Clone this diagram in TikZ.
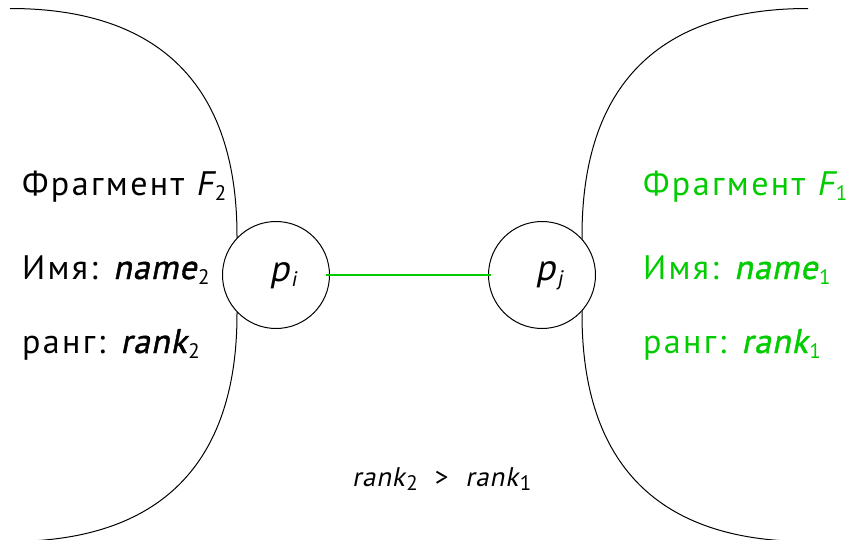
\documentclass[tikz,border=0pt]{standalone}
\usepackage{fontspec}
\setmainfont{PT Sans}[LetterSpace=7]
\newfontfamily\oblfont{PT Sans}[FakeSlant=0.2,LetterSpace=3]
\newfontfamily\oblbfont{PT Sans}[FakeSlant=0.2,FakeBold=1.2,LetterSpace=3]
\definecolor{fgreen}{RGB}{0,204,0}
\newcommand\lsub[2]{\kern0.8pt\raisebox{-#1}{\fontsize{10.5}{12}\selectfont #2}}
\tikzset{
  bnd/.style={draw=black, line width=0.5pt},
  proc/.style={circle, draw=black, fill=white, line width=0.5pt, minimum size=53.5pt, inner sep=0pt},
  ptext/.style={inner sep=0pt, font=\fontsize{18.5}{21}\selectfont\oblfont},
  lbl/.style={anchor=base west, inner sep=0pt, font=\fontsize{17}{20}\selectfont},
  link/.style={draw=fgreen, line width=0.7pt},
}
\begin{document}
\begin{tikzpicture}[x=0.5pt, y=-0.5pt]
\useasboundingbox (0,0) rectangle (846,540);
% fragment boundaries
\draw[bnd] (10,8.5) .. controls (160,8.5) and (237,86) .. (237,236)
  -- (237,314) .. controls (237,464) and (160,541.5) .. (10,541.5);
\draw[bnd] (808,8.5) .. controls (658,8.5) and (582,86) .. (582,236)
  -- (582,314) .. controls (582,464) and (658,541.5) .. (808,541.5);
% processes
\node[proc] (pi) at (276,275) {};
\node[proc] (pj) at (542,275) {};
\node[ptext] (ti) at (283,275.5) {p\lsub{2.5pt}{i}};
\node[ptext] (tj) at (549,275.5) {p\lsub{2.5pt}{j}};
\draw[link, shorten <=-2pt, shorten >=-1.5pt] (pi) -- (pj);
% left labels
\node[lbl] (f2) at (21.7,195) {Фрагмент {\oblfont F}\lsub{2.5pt}{2}};
\node[lbl] (n2) at (21.7,279) {Имя: {\oblbfont name}\lsub{2.5pt}{2}};
\node[lbl] (r2) at (21.7,353) {ранг: {\oblbfont rank}\lsub{2.5pt}{2}};
% right labels
\node[lbl, text=fgreen] (f1) at (642.7,195) {Фрагмент {\oblfont F}\lsub{2.5pt}{1}};
\node[lbl, text=fgreen] (n1) at (642.7,279) {Имя: {\oblbfont name}\lsub{2.5pt}{1}};
\node[lbl, text=fgreen] (r1) at (642.7,353) {ранг: {\oblbfont rank}\lsub{2.5pt}{1}};
% relation
\node[anchor=base west, inner sep=0pt, font=\fontsize{13.5}{16}\selectfont] (rel) at (351.7,486.7)
  {{\oblfont rank}\lsub{2pt}{2}\hspace{8.5pt}>\hspace{8.5pt}{\oblfont rank}\lsub{2pt}{1}};
\end{tikzpicture}
\end{document}
